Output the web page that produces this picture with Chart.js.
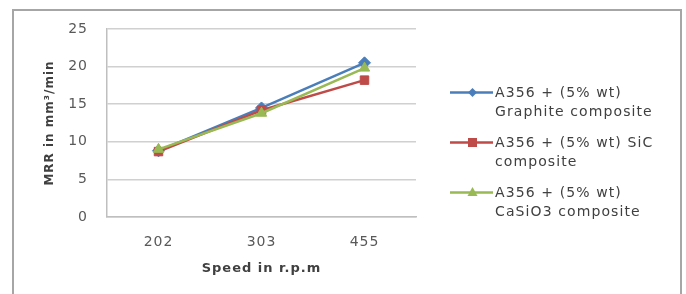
<!DOCTYPE html>
<html>
<head>
<meta charset="utf-8">
<script src="https://cdn.jsdelivr.net/npm/chart.js@4"></script>
<style>
  html, body { margin: 0; padding: 0; background: #fff; overflow: hidden; }
  #wrap { position: relative; width: 686px; height: 294px; }
  #frame { position: absolute; left: 12px; top: 9px; width: 670px; height: 320px; border: 2px solid #a6a6a6; box-sizing: border-box; }
  canvas { position: absolute; left: 0; top: 0; }
  #legend { position: absolute; left: 450px; top: 83px; font-family: "DejaVu Sans", sans-serif; font-size: 14px; letter-spacing: 1.1px; color: #404040; line-height: 19px; }
  .item { display: flex; align-items: flex-start; margin-bottom: 12px; }
  .item svg { flex: none; margin-top: 1px; }
  .item span { margin-left: 2px; }
</style>
</head>
<body>
<div id="wrap">
  <div id="frame"></div>
  <canvas id="c" width="686" height="294"></canvas>
  <div id="legend"></div>
</div>
<script>
const speeds = ['202', '303', '455'];
const graphite = [8.8, 14.5, 20.5];
const sic = [8.7, 14.2, 18.2];
const casio3 = [9.0, 13.8, 19.8];
const seriesNames = [['A356 + (5% wt)', 'Graphite composite'], ['A356 + (5% wt) SiC', 'composite'], ['A356 + (5% wt)', 'CaSiO3 composite']];
const colors = ['#4a7ebb', '#be4b48', '#98b954'];
const shapes = ['rectRot', 'rect', 'triangle'];

const ds = [graphite, sic, casio3].map((d, i) => ({
  label: seriesNames[i].join(' '), data: d, borderColor: colors[i], backgroundColor: colors[i],
  borderWidth: 2.5, pointStyle: shapes[i], pointRadius: 6, pointBorderWidth: 1, tension: 0,
  order: 3 - i, // later series on top, like Excel
}));

// the reference text is set wide, so space the canvas letters a bit
const spacing = { id: 'spacing', beforeDraw(chart) { chart.ctx.letterSpacing = '1px'; } };

const tickFont = { family: 'DejaVu Sans', size: 14 };
new Chart(document.getElementById('c'), {
  type: 'line',
  data: { labels: speeds, datasets: ds },
  plugins: [spacing],
  options: {
    responsive: false, animation: false, devicePixelRatio: 1,
    layout: { padding: { left: 0, top: 29, right: 270, bottom: 0 } },
    plugins: { legend: { display: false }, tooltip: { enabled: false } },
    scales: {
      x: {
        offset: true,
        grid: { display: false, drawTicks: false },
        border: { display: true, color: '#bfbfbf', width: 1.5 },
        ticks: { padding: 17, color: '#595959', font: tickFont },
        title: { display: true, text: 'Speed in r.p.m', color: '#404040', font: { family: 'DejaVu Sans', size: 13, weight: 'bold' }, padding: { top: 0, bottom: 18 } },
        afterFit(s) { s.height = 77; },
      },
      y: {
        min: 0, max: 25,
        ticks: { stepSize: 5, padding: 19, color: '#595959', font: tickFont },
        grid: { color: '#d0d0d0', lineWidth: 1.5, drawTicks: false },
        border: { display: true, color: '#bfbfbf', width: 1.5 },
        title: { display: true, text: 'MRR in mm³/min', color: '#404040', font: { family: 'DejaVu Sans', size: 12, weight: 'bold' }, padding: { top: 43, bottom: 0 } },
        afterFit(s) { s.width = 107; },
      },
    },
  },
});

// legend built from the same series
const lg = document.getElementById('legend');
seriesNames.forEach((lines, i) => {
  const c = colors[i];
  const mk = shapes[i] === 'rect' ? '<rect x="18" y="4" width="9" height="9" fill="' + c + '"/>'
    : shapes[i] === 'triangle' ? '<polygon points="22.5,3 27.5,12 17.5,12" fill="' + c + '"/>'
    : '<polygon points="22.5,4 27,8.5 22.5,13 18,8.5" fill="' + c + '"/>';
  lg.innerHTML += '<div class="item"><svg width="43" height="17"><line x1="0" y1="8.5" x2="43" y2="8.5" stroke="' + c + '" stroke-width="2.5"/>' + mk + '</svg><span>' + lines.join('<br>') + '</span></div>';
});
</script>
</body>
</html>
